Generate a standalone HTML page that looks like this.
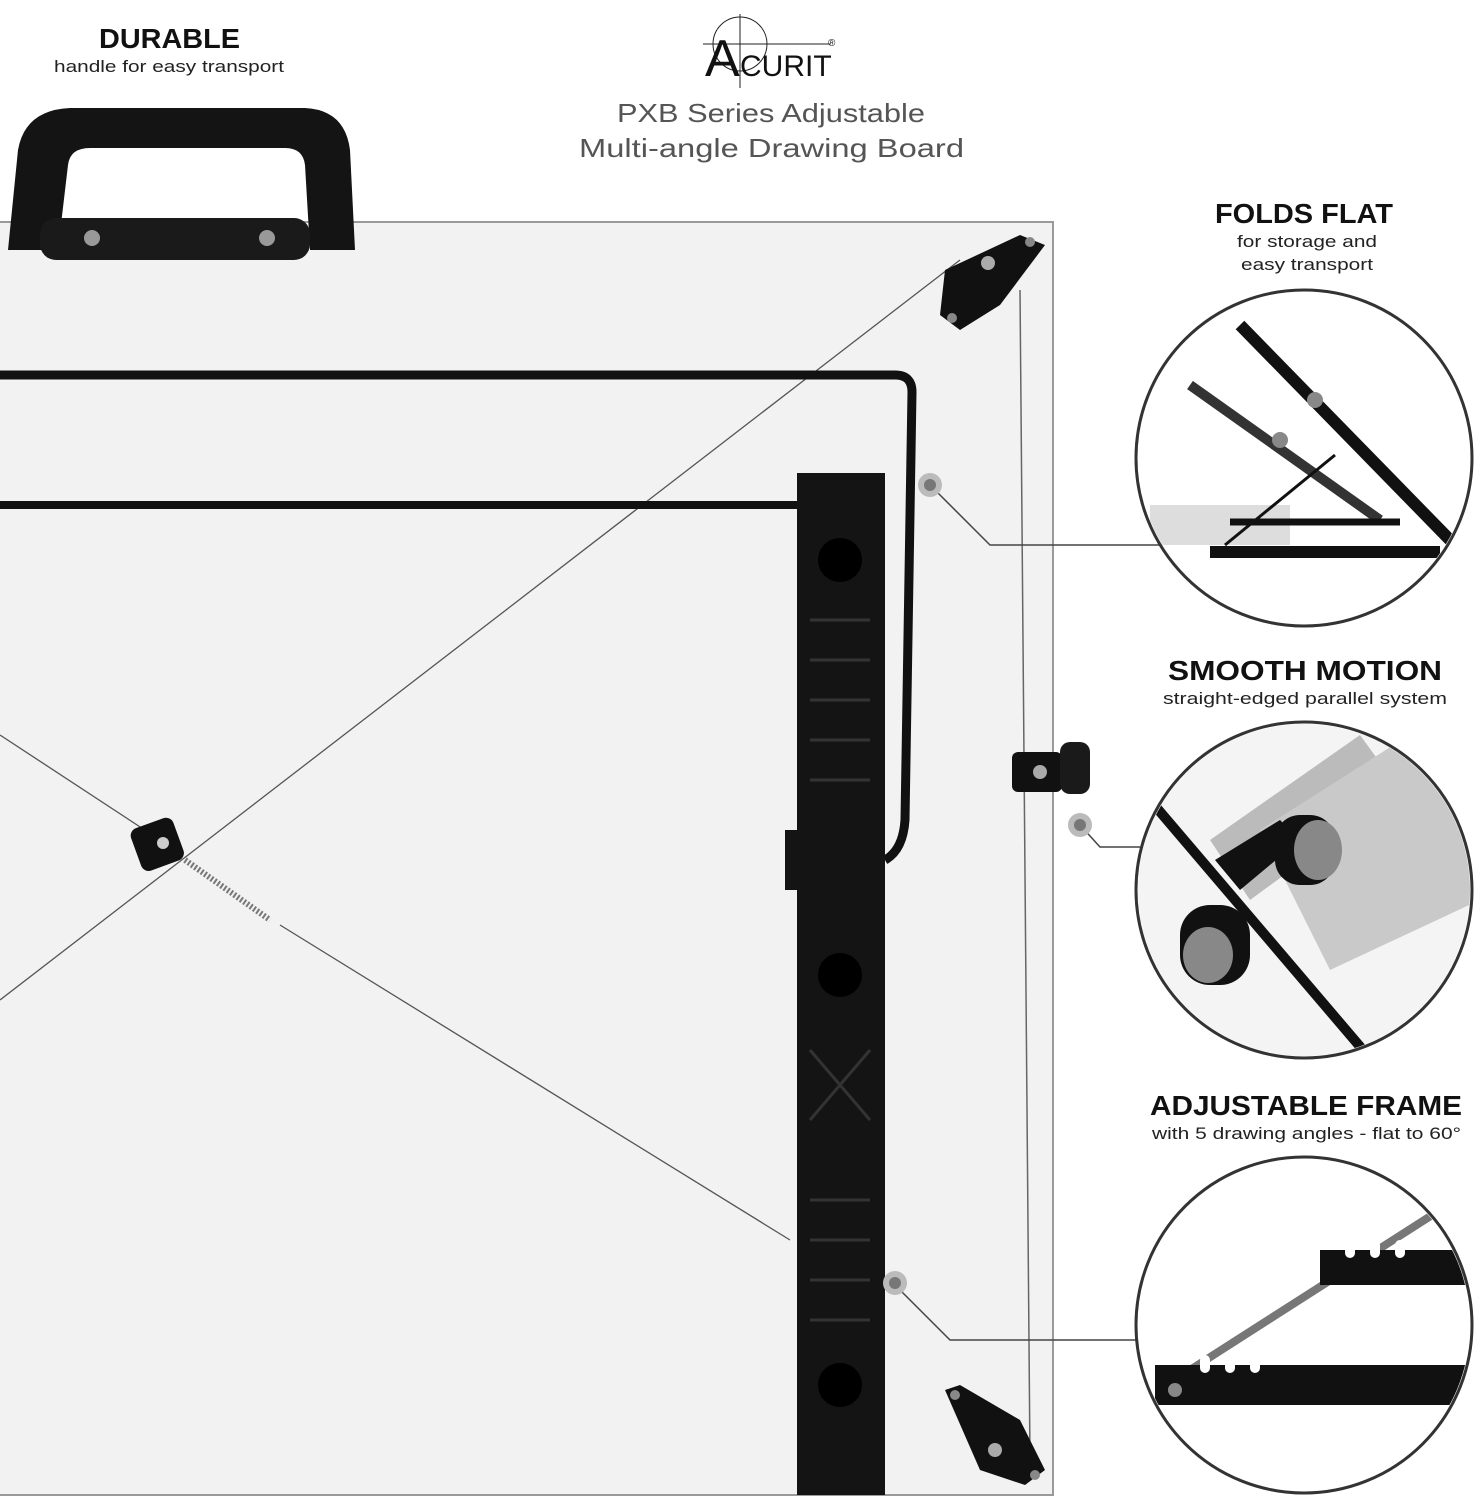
<!DOCTYPE html>
<html><head><meta charset="utf-8"><style>
html,body{margin:0;padding:0;background:#fff;width:1477px;height:1500px;overflow:hidden}
svg{display:block}
text{font-family:"Liberation Sans",sans-serif}
</style></head><body>
<svg width="1477" height="1500" viewBox="0 0 1477 1500" xmlns="http://www.w3.org/2000/svg">
<rect width="1477" height="1500" fill="#fff"/>
<rect x="-2" y="222" width="1055" height="1273" fill="#f2f2f2" stroke="#9a9a9a" stroke-width="2"/>
<line x1="1020" y1="290" x2="1030" y2="1460" stroke="#666" stroke-width="1.5"/>
<g stroke="#555" stroke-width="1.3" fill="none">
<line x1="0" y1="1000" x2="960" y2="260"/>
<line x1="0" y1="735" x2="160" y2="840"/>
<line x1="280" y1="925" x2="790" y2="1240"/>
</g>
<line x1="185" y1="860" x2="270" y2="920" stroke="#777" stroke-width="6" stroke-dasharray="2 2"/>
<rect x="135" y="822" width="45" height="45" rx="8" fill="#111" transform="rotate(-20 157 845)"/>
<circle cx="163" cy="843" r="6" fill="#ccc"/>
<path d="M8 250 L18 150 Q25 110 70 108 L305 108 Q345 110 350 150 L355 250 L310 250 L305 165 Q303 148 285 148 L90 148 Q70 148 68 165 L58 250 Z" fill="#141414"/>
<rect x="40" y="218" width="270" height="42" rx="16" fill="#1a1a1a"/>
<circle cx="92" cy="238" r="8" fill="#999"/><circle cx="267" cy="238" r="8" fill="#999"/>
<path d="M945 270 L1020 235 L1045 245 L1000 305 L960 330 L940 315 Z" fill="#111"/>
<circle cx="988" cy="263" r="7" fill="#aaa"/><circle cx="1030" cy="242" r="5" fill="#888"/><circle cx="952" cy="318" r="5" fill="#888"/>
<path d="M945 1390 L960 1385 L1020 1420 L1045 1470 L1025 1485 L980 1470 Z" fill="#111"/>
<circle cx="995" cy="1450" r="7" fill="#aaa"/><circle cx="955" cy="1395" r="5" fill="#888"/><circle cx="1035" cy="1475" r="5" fill="#888"/>
<rect x="1012" y="752" width="50" height="40" rx="6" fill="#111"/>
<rect x="1060" y="742" width="30" height="52" rx="10" fill="#1a1a1a"/>
<circle cx="1040" cy="772" r="7" fill="#aaa"/>
<path d="M0 375 L895 375 Q912 375 912 392 L905 820 Q903 850 885 860" fill="none" stroke="#111" stroke-width="9"/>
<line x1="0" y1="505" x2="805" y2="505" stroke="#111" stroke-width="8"/>
<rect x="797" y="473" width="88" height="1022" fill="#141414"/>
<rect x="785" y="830" width="15" height="60" fill="#141414"/>
<g fill="#000"><circle cx="840" cy="560" r="22"/><circle cx="840" cy="975" r="22"/><circle cx="840" cy="1385" r="22"/></g>
<g stroke="#333" stroke-width="3">
<line x1="810" y1="620" x2="870" y2="620"/><line x1="810" y1="660" x2="870" y2="660"/><line x1="810" y1="700" x2="870" y2="700"/><line x1="810" y1="740" x2="870" y2="740"/><line x1="810" y1="780" x2="870" y2="780"/>
<line x1="810" y1="1050" x2="870" y2="1120"/><line x1="870" y1="1050" x2="810" y2="1120"/>
<line x1="810" y1="1200" x2="870" y2="1200"/><line x1="810" y1="1240" x2="870" y2="1240"/><line x1="810" y1="1280" x2="870" y2="1280"/><line x1="810" y1="1320" x2="870" y2="1320"/>
</g>
<g fill="none" stroke="#444" stroke-width="1.5">
<path d="M930 485 L990 545 L1165 545"/>
<path d="M1080 825 L1100 847 L1140 847"/>
<path d="M895 1285 L950 1340 L1140 1340"/>
</g>
<g><circle cx="930" cy="485" r="12" fill="#bbb"/><circle cx="930" cy="485" r="6" fill="#777"/>
<circle cx="1080" cy="825" r="12" fill="#bbb"/><circle cx="1080" cy="825" r="6" fill="#777"/>
<circle cx="895" cy="1283" r="12" fill="#bbb"/><circle cx="895" cy="1283" r="6" fill="#777"/></g>
<circle cx="1304" cy="458" r="168" fill="#fff" stroke="#333" stroke-width="3"/>
<circle cx="1304" cy="890" r="168" fill="#fff" stroke="#333" stroke-width="3"/>
<circle cx="1304" cy="1325" r="168" fill="#fff" stroke="#333" stroke-width="3"/>
<defs><clipPath id="c1"><circle cx="1304" cy="458" r="166"/></clipPath><clipPath id="c2"><circle cx="1304" cy="890" r="166"/></clipPath><clipPath id="c3"><circle cx="1304" cy="1325" r="166"/></clipPath></defs>
<g clip-path="url(#c1)">
<rect x="1150" y="505" width="140" height="40" fill="#ddd"/>
<line x1="1240" y1="325" x2="1450" y2="540" stroke="#111" stroke-width="12"/>
<line x1="1190" y1="385" x2="1380" y2="520" stroke="#333" stroke-width="10"/>
<line x1="1210" y1="552" x2="1440" y2="552" stroke="#111" stroke-width="12"/>
<line x1="1230" y1="522" x2="1400" y2="522" stroke="#111" stroke-width="7"/>
<line x1="1225" y1="545" x2="1335" y2="455" stroke="#111" stroke-width="3"/>
<circle cx="1315" cy="400" r="8" fill="#888"/><circle cx="1280" cy="440" r="8" fill="#888"/>
</g>
<g clip-path="url(#c2)">
<rect x="1130" y="720" width="350" height="350" fill="#f4f4f4"/>
<polygon points="1210,840 1360,735 1400,790 1250,900" fill="#bbb"/>
<polygon points="1260,830 1480,690 1480,900 1330,970" fill="#c9c9c9"/>
<line x1="1150" y1="800" x2="1380" y2="1070" stroke="#111" stroke-width="10"/>
<polygon points="1215,860 1280,820 1300,840 1240,890" fill="#111"/>
<rect x="1275" y="815" width="60" height="70" rx="25" fill="#111"/>
<ellipse cx="1318" cy="850" rx="24" ry="30" fill="#888"/>
<rect x="1180" y="905" width="70" height="80" rx="30" fill="#111"/>
<ellipse cx="1208" cy="955" rx="25" ry="28" fill="#888"/>
</g>
<g clip-path="url(#c3)">
<line x1="1190" y1="1370" x2="1440" y2="1210" stroke="#777" stroke-width="8"/>
<rect x="1155" y="1365" width="320" height="40" fill="#111"/>
<rect x="1320" y="1250" width="160" height="35" fill="#111"/>
<g fill="#fff"><rect x="1200" y="1355" width="10" height="18" rx="5"/><rect x="1225" y="1355" width="10" height="18" rx="5"/><rect x="1250" y="1355" width="10" height="18" rx="5"/><rect x="1345" y="1240" width="10" height="18" rx="5"/><rect x="1370" y="1240" width="10" height="18" rx="5"/><rect x="1395" y="1240" width="10" height="18" rx="5"/></g>
<circle cx="1175" cy="1390" r="7" fill="#888"/>
</g>
<text x="99" y="48" font-size="28" font-weight="bold" fill="#111" textLength="141" lengthAdjust="spacingAndGlyphs">DURABLE</text>
<text x="54" y="72" font-size="17" fill="#222" textLength="230" lengthAdjust="spacingAndGlyphs">handle for easy transport</text>
<g>
<line x1="740" y1="14" x2="740" y2="88" stroke="#222" stroke-width="1"/>
<line x1="703" y1="44" x2="830" y2="44" stroke="#222" stroke-width="1"/>
<circle cx="740" cy="44" r="27" fill="none" stroke="#222" stroke-width="1"/>
<text x="705" y="76" font-size="52" fill="#111">A</text>
<text x="740" y="76" font-size="30" fill="#111">CURIT</text>
<text x="828" y="46" font-size="10" fill="#111">®</text>
</g>
<text x="617" y="122" font-size="26" fill="#555" textLength="308" lengthAdjust="spacingAndGlyphs">PXB Series Adjustable</text>
<text x="579" y="157" font-size="26" fill="#555" textLength="385" lengthAdjust="spacingAndGlyphs">Multi-angle Drawing Board</text>
<text x="1215" y="223" font-size="28" font-weight="bold" fill="#111" textLength="178" lengthAdjust="spacingAndGlyphs">FOLDS FLAT</text>
<text x="1237" y="247" font-size="17" fill="#222" textLength="140" lengthAdjust="spacingAndGlyphs">for storage and</text>
<text x="1241" y="270" font-size="17" fill="#222" textLength="132" lengthAdjust="spacingAndGlyphs">easy transport</text>
<text x="1168" y="680" font-size="28" font-weight="bold" fill="#111" textLength="274" lengthAdjust="spacingAndGlyphs">SMOOTH MOTION</text>
<text x="1163" y="704" font-size="17" fill="#222" textLength="284" lengthAdjust="spacingAndGlyphs">straight-edged parallel system</text>
<text x="1150" y="1115" font-size="28" font-weight="bold" fill="#111" textLength="312" lengthAdjust="spacingAndGlyphs">ADJUSTABLE FRAME</text>
<text x="1152" y="1139" font-size="17" fill="#222" textLength="309" lengthAdjust="spacingAndGlyphs">with 5 drawing angles - flat to 60°</text>
</svg>
</body></html>
